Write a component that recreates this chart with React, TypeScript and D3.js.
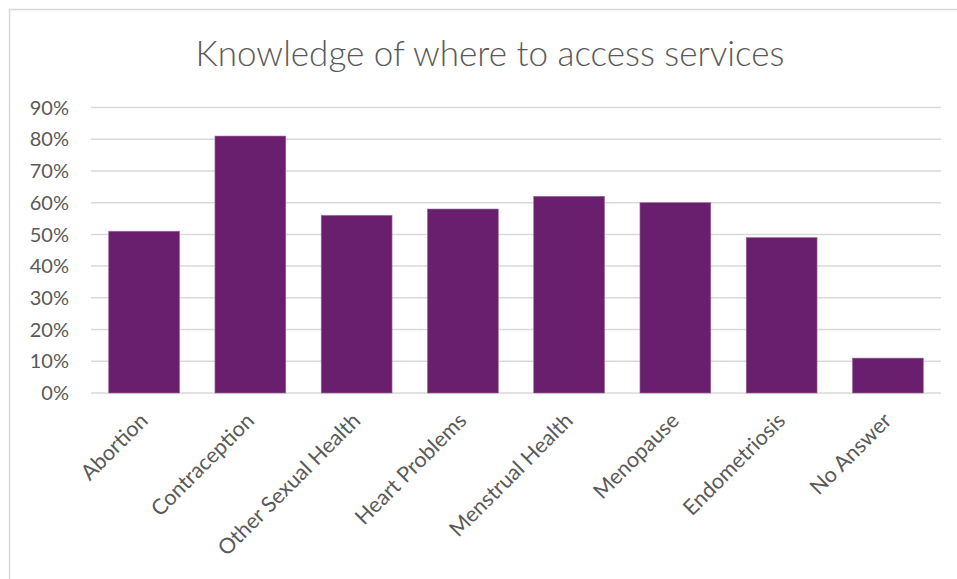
import React, { useEffect, useRef } from "react";
import * as d3 from "d3";

const categories = [
  "Abortion",
  "Contraception",
  "Other Sexual Health",
  "Heart Problems",
  "Menstrual Health",
  "Menopause",
  "Endometriosis",
  "No Answer",
];
const values = [0.51, 0.81, 0.56, 0.58, 0.62, 0.6, 0.49, 0.11];
const yTicks = [0, 0.1, 0.2, 0.3, 0.4, 0.5, 0.6, 0.7, 0.8, 0.9];
const title = "Knowledge of where to access services";

const W = 957;
const H = 579;
const FONT = "Lato, 'Open Sans', sans-serif";

export default function App() {
  const ref = useRef<SVGSVGElement>(null);

  useEffect(() => {
    const svg = d3.select(ref.current);
    svg.selectAll("*").remove();

    const left = 91;
    const right = 941;
    const top = 107.5;
    const bottom = 393;

    const x = d3.scaleBand<string>().domain(categories).range([left, right]).paddingInner(1 / 3).paddingOuter(1 / 6);
    const y = d3.scaleLinear().domain([0, 0.9]).range([bottom, top]);

    svg.append("rect").attr("x", 0).attr("y", 0).attr("width", W).attr("height", H).attr("fill", "#fff");
    svg
      .append("rect")
      .attr("x", 9.5)
      .attr("y", 9.5)
      .attr("width", 1000)
      .attr("height", 700)
      .attr("fill", "none")
      .attr("stroke", "#d9d9d9")
      .attr("stroke-width", 1.5);

    svg
      .append("text")
      .attr("x", 490)
      .attr("y", 66)
      .attr("text-anchor", "middle")
      .attr("font-family", FONT)
      .attr("font-weight", 300)
      .attr("font-size", 35)
      .attr("fill", "#595959")
      .text(title);

    svg
      .append("g")
      .selectAll("line")
      .data(yTicks)
      .join("line")
      .attr("x1", left)
      .attr("x2", right)
      .attr("y1", (d) => y(d))
      .attr("y2", (d) => y(d))
      .attr("stroke", "#d9d9d9")
      .attr("stroke-width", 1.5);

    svg
      .append("g")
      .selectAll("text")
      .data(yTicks)
      .join("text")
      .attr("x", 69)
      .attr("y", (d) => y(d))
      .attr("dy", "0.36em")
      .attr("text-anchor", "end")
      .attr("font-family", FONT)
      .attr("font-size", 20)
      .attr("fill", "#595959")
      .text((d) => d3.format(".0%")(d));

    svg
      .append("g")
      .selectAll("rect")
      .data(values)
      .join("rect")
      .attr("x", (_, i) => x(categories[i])!)
      .attr("width", x.bandwidth())
      .attr("y", (d) => y(d))
      .attr("height", (d) => bottom - y(d))
      .attr("fill", "#6a1f6e")
      .attr("stroke", "#9a6d9c")
      .attr("stroke-width", 0.6);

    svg
      .append("g")
      .selectAll("text")
      .data(categories)
      .join("text")
      .attr("transform", (d) => `translate(${x(d)! + x.bandwidth() / 2 + 5},${bottom + 29}) rotate(-45)`)
      .attr("text-anchor", "end")
      .attr("font-family", FONT)
      .attr("font-size", 21.5)
      .attr("fill", "#595959")
      .text((d) => d);
  }, []);

  return (
    <svg
      ref={ref}
      width={W}
      height={H}
      style={{ position: "absolute", left: 0, top: 0, display: "block" }}
    />
  );
}
